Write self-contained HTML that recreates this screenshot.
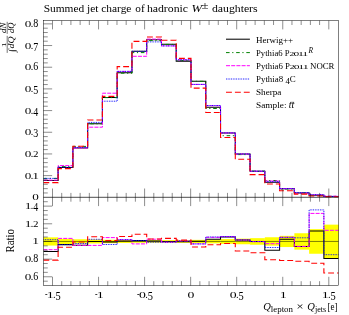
<!DOCTYPE html>
<html><head><meta charset="utf-8"><title>Summed jet charge</title>
<style>html,body{margin:0;padding:0;background:#fff;width:349px;height:315px;overflow:hidden}svg{display:block;will-change:transform}text{fill:#000;white-space:pre}</style>
</head><body>
<svg width="349" height="315" viewBox="0 0 349 315">
<rect x="43.35" y="237.35" width="14.81" height="8.2" fill="#ffff00"/>
<rect x="58.11" y="238.85" width="14.81" height="5.2" fill="#ffff00"/>
<rect x="72.88" y="239.25" width="14.81" height="4.4" fill="#ffff00"/>
<rect x="87.64" y="239.45" width="14.81" height="4" fill="#ffff00"/>
<rect x="102.41" y="239.75" width="14.81" height="3.4" fill="#ffff00"/>
<rect x="117.17" y="239.95" width="14.81" height="3" fill="#ffff00"/>
<rect x="131.94" y="240.15" width="14.81" height="2.6" fill="#ffff00"/>
<rect x="146.7" y="240.15" width="14.81" height="2.6" fill="#ffff00"/>
<rect x="161.47" y="240.15" width="14.81" height="2.6" fill="#ffff00"/>
<rect x="176.23" y="240.05" width="14.81" height="2.8" fill="#ffff00"/>
<rect x="191" y="239.85" width="14.81" height="3.2" fill="#ffff00"/>
<rect x="205.76" y="239.55" width="14.81" height="3.8" fill="#ffff00"/>
<rect x="220.53" y="239.05" width="14.81" height="4.8" fill="#ffff00"/>
<rect x="235.29" y="238.65" width="14.81" height="5.6" fill="#ffff00"/>
<rect x="250.06" y="238.15" width="14.81" height="6.6" fill="#ffff00"/>
<rect x="264.82" y="237.25" width="14.81" height="8.4" fill="#ffff00"/>
<rect x="279.59" y="235.85" width="14.81" height="11.2" fill="#ffff00"/>
<rect x="294.35" y="233.25" width="14.81" height="16.4" fill="#ffff00"/>
<rect x="309.12" y="229.15" width="14.81" height="24.6" fill="#ffff00"/>
<rect x="323.88" y="224.65" width="14.81" height="33.6" fill="#ffff00"/>
<clipPath id="cm"><rect x="43.35" y="20.6" width="295.3" height="177.3"/></clipPath>
<clipPath id="cr"><rect x="43.35" y="197.3" width="295.3" height="88.3"/></clipPath>
<g clip-path="url(#cr)">
<path d="M43.35 241.45 H338.65" stroke="#000" stroke-width="0.5" fill="none"/>
<path d="M43.35 251.4 H58.11 V244.6 H72.88 V245.3 H87.64 V241.4 H102.41 V242 H117.17 V241 H131.94 V240.6 H146.7 V241 H161.47 V241.5 H176.23 V241.8 H191 V241.3 H205.76 V239.3 H220.53 V237 H235.29 V240 H250.06 V241.5 H264.82 V250.3 H279.59 V239.2 H294.35 V246.4 H309.12 V230.9 H323.88 V258.4 H338.65" fill="none" stroke="#000000" stroke-width="1.05"/>
<path d="M43.35 249.7 H58.11 V238.4 H72.88 V245.3 H87.64 V245.4 H102.41 V237.6 H117.17 V239.7 H131.94 V243.9 H146.7 V239.2 H161.47 V242.2 H176.23 V240.9 H191 V243.9 H205.76 V237.3 H220.53 V236.6 H235.29 V240 H250.06 V241.6 H264.82 V243.7 H279.59 V237.3 H294.35 V246.4 H309.12 V213.4 H323.88 V230.3 H338.65" fill="none" stroke="#ff00ff" stroke-width="1.0" stroke-dasharray="4 1.2"/>
<path d="M43.35 239.7 H58.11 V244.6 H72.88 V243.5 H87.64 V239.3 H102.41 V244.5 H117.17 V239.7 H131.94 V240.5 H146.7 V242.2 H161.47 V242.2 H176.23 V240.9 H191 V243.9 H205.76 V237 H220.53 V236.6 H235.29 V240 H250.06 V241.6 H264.82 V247.5 H279.59 V237.3 H294.35 V237.8 H309.12 V209.9 H323.88 V254.7 H338.65" fill="none" stroke="#0000ff" stroke-width="1.0" stroke-dasharray="0.85 0.85"/>
<path d="M43.35 260.1 H58.11 V247.2 H72.88 V242 H87.64 V236.8 H102.41 V240.5 H117.17 V236.5 H131.94 V234.3 H146.7 V239 H161.47 V238.4 H176.23 V240.1 H191 V247 H205.76 V244.7 H220.53 V243.5 H235.29 V251 H250.06 V252.7 H264.82 V259.8 H279.59 V260.5 H294.35 V261.3 H309.12 V263.2 H323.88 V273 H338.65" fill="none" stroke="#ff0000" stroke-width="1.1" stroke-dasharray="5.9 3"/>
</g>
<g clip-path="url(#cm)">
<path d="M43.35 180.4 H58.11 V167.4 H72.88 V148 H87.64 V123.7 H102.41 V97.5 H117.17 V72.8 H131.94 V51.2 H146.7 V39.8 H161.47 V44.3 H176.23 V61.1 H191 V81.2 H205.76 V107.2 H220.53 V133 H235.29 V154 H250.06 V171.2 H264.82 V182.2 H279.59 V188.8 H294.35 V193.05 H309.12 V195.2 H323.88 V196.4 H338.65" fill="none" stroke="#000000" stroke-width="1.05"/>
<path d="M43.35 178.4 H58.11 V166.6 H72.88 V146.4 H87.64 V123.8 H102.41 V97.6 H117.17 V73.2 H131.94 V52.6 H146.7 V40.6 H161.47 V44.4 H176.23 V60.5 H191 V81.3 H205.76 V108.5 H220.53 V135.7 H235.29 V154.6 H250.06 V171.1 H264.82 V180.5 H279.59 V189 H294.35 V192.8 H309.12 V195.4 H323.88 V196.3 H338.65" fill="none" stroke="#008000" stroke-width="1.0" stroke-dasharray="3.6 2.6 1.2 2.75"/>
<path d="M43.35 180.1 H58.11 V165.6 H72.88 V148 H87.64 V127.2 H102.41 V93.2 H117.17 V71.4 H131.94 V56.3 H146.7 V39.1 H161.47 V45.9 H176.23 V59.8 H191 V84.4 H205.76 V105.7 H220.53 V132.9 H235.29 V154 H250.06 V171.2 H264.82 V181 H279.59 V188.6 H294.35 V193.05 H309.12 V194.8 H323.88 V196.2 H338.65" fill="none" stroke="#ff00ff" stroke-width="1.0" stroke-dasharray="4 1.2"/>
<path d="M43.35 178.4 H58.11 V167.3 H72.88 V147.4 H87.64 V122.4 H102.41 V101.2 H117.17 V71.4 H131.94 V51.3 H146.7 V41.9 H161.47 V45.9 H176.23 V59.8 H191 V84.4 H205.76 V105.5 H220.53 V132.9 H235.29 V154 H250.06 V171.2 H264.82 V181.7 H279.59 V188.6 H294.35 V192.6 H309.12 V194.7 H323.88 V196.4 H338.65" fill="none" stroke="#0000ff" stroke-width="1.0" stroke-dasharray="0.85 0.85"/>
<path d="M43.35 182.6 H58.11 V168.6 H72.88 V146.2 H87.64 V120 H102.41 V96.4 H117.17 V66.6 H131.94 V41.4 H146.7 V37 H161.47 V40.2 H176.23 V58.4 H191 V88.1 H205.76 V112.5 H220.53 V137.5 H235.29 V159.3 H250.06 V174.6 H264.82 V184 H279.59 V190.7 H294.35 V194.1 H309.12 V196 H323.88 V196.8 H338.65" fill="none" stroke="#ff0000" stroke-width="1.1" stroke-dasharray="5.9 3"/>
</g>
<g stroke="#000" stroke-width="0.5" fill="none">
<rect x="43.35" y="20.6" width="295.3" height="265"/>
<path d="M43.35 197.3H338.65" stroke-width="0.7"/>
</g>
<path d="M52.5 20.6v8.8 M52.5 188.5v17.6 M52.5 285.6v-8.8 M61.71 20.6v4.4 M61.71 192.9v8.8 M61.71 285.6v-4.4 M70.92 20.6v4.4 M70.92 192.9v8.8 M70.92 285.6v-4.4 M80.13 20.6v4.4 M80.13 192.9v8.8 M80.13 285.6v-4.4 M89.34 20.6v4.4 M89.34 192.9v8.8 M89.34 285.6v-4.4 M98.55 20.6v8.8 M98.55 188.5v17.6 M98.55 285.6v-8.8 M107.76 20.6v4.4 M107.76 192.9v8.8 M107.76 285.6v-4.4 M116.97 20.6v4.4 M116.97 192.9v8.8 M116.97 285.6v-4.4 M126.18 20.6v4.4 M126.18 192.9v8.8 M126.18 285.6v-4.4 M135.39 20.6v4.4 M135.39 192.9v8.8 M135.39 285.6v-4.4 M144.6 20.6v8.8 M144.6 188.5v17.6 M144.6 285.6v-8.8 M153.81 20.6v4.4 M153.81 192.9v8.8 M153.81 285.6v-4.4 M163.02 20.6v4.4 M163.02 192.9v8.8 M163.02 285.6v-4.4 M172.23 20.6v4.4 M172.23 192.9v8.8 M172.23 285.6v-4.4 M181.44 20.6v4.4 M181.44 192.9v8.8 M181.44 285.6v-4.4 M190.65 20.6v8.8 M190.65 188.5v17.6 M190.65 285.6v-8.8 M199.86 20.6v4.4 M199.86 192.9v8.8 M199.86 285.6v-4.4 M209.07 20.6v4.4 M209.07 192.9v8.8 M209.07 285.6v-4.4 M218.28 20.6v4.4 M218.28 192.9v8.8 M218.28 285.6v-4.4 M227.49 20.6v4.4 M227.49 192.9v8.8 M227.49 285.6v-4.4 M236.7 20.6v8.8 M236.7 188.5v17.6 M236.7 285.6v-8.8 M245.91 20.6v4.4 M245.91 192.9v8.8 M245.91 285.6v-4.4 M255.12 20.6v4.4 M255.12 192.9v8.8 M255.12 285.6v-4.4 M264.33 20.6v4.4 M264.33 192.9v8.8 M264.33 285.6v-4.4 M273.54 20.6v4.4 M273.54 192.9v8.8 M273.54 285.6v-4.4 M282.75 20.6v8.8 M282.75 188.5v17.6 M282.75 285.6v-8.8 M291.96 20.6v4.4 M291.96 192.9v8.8 M291.96 285.6v-4.4 M301.17 20.6v4.4 M301.17 192.9v8.8 M301.17 285.6v-4.4 M310.38 20.6v4.4 M310.38 192.9v8.8 M310.38 285.6v-4.4 M319.59 20.6v4.4 M319.59 192.9v8.8 M319.59 285.6v-4.4 M328.8 20.6v8.8 M328.8 188.5v17.6 M328.8 285.6v-8.8 M43.35 192.96h4.4 M43.35 188.63h4.4 M43.35 184.29h4.4 M43.35 179.96h4.4 M43.35 175.62h8.8 M43.35 171.28h4.4 M43.35 166.95h4.4 M43.35 162.61h4.4 M43.35 158.28h4.4 M43.35 153.94h8.8 M43.35 149.6h4.4 M43.35 145.27h4.4 M43.35 140.93h4.4 M43.35 136.6h4.4 M43.35 132.26h8.8 M43.35 127.92h4.4 M43.35 123.59h4.4 M43.35 119.25h4.4 M43.35 114.92h4.4 M43.35 110.58h8.8 M43.35 106.24h4.4 M43.35 101.91h4.4 M43.35 97.57h4.4 M43.35 93.24h4.4 M43.35 88.9h8.8 M43.35 84.56h4.4 M43.35 80.23h4.4 M43.35 75.89h4.4 M43.35 71.56h4.4 M43.35 67.22h8.8 M43.35 62.88h4.4 M43.35 58.55h4.4 M43.35 54.21h4.4 M43.35 49.88h4.4 M43.35 45.54h8.8 M43.35 41.2h4.4 M43.35 36.87h4.4 M43.35 32.53h4.4 M43.35 28.2h4.4 M43.35 23.86h8.8 M43.35 281.19h4.4 M43.35 276.77h8.8 M43.35 272.35h4.4 M43.35 267.94h4.4 M43.35 263.52h4.4 M43.35 259.11h8.8 M43.35 254.69h4.4 M43.35 250.28h4.4 M43.35 245.86h4.4 M43.35 241.45h8.8 M43.35 237.03h4.4 M43.35 232.62h4.4 M43.35 228.2h4.4 M43.35 223.79h8.8 M43.35 219.38h4.4 M43.35 214.96h4.4 M43.35 210.54h4.4 M43.35 206.13h8.8 M43.35 201.71h4.4" stroke="#000" stroke-width="0.45" fill="none"/>
<g transform="translate(38.2 200.3) translate(-5.3 0) scale(1.0000 1)" font-family="Liberation Serif, serif"><text transform="translate(-0.65 0) scale(1.32 0.76)" font-size="10">0</text></g>
<g transform="translate(38.2 178.62) translate(-12.8 0) scale(1.0000 1)" font-family="Liberation Serif, serif"><text transform="translate(-0.65 0) scale(1.32 0.76)" font-size="10">0</text><text x="5.3" y="0" font-size="10">.</text><text transform="translate(6.93 0) scale(1.35 0.76)" font-size="10">1</text></g>
<g transform="translate(38.2 156.94) translate(-12.8 0) scale(1.0000 1)" font-family="Liberation Serif, serif"><text transform="translate(-0.65 0) scale(1.32 0.76)" font-size="10">0</text><text x="5.3" y="0" font-size="10">.</text><text transform="translate(7.55 0) scale(1.1 0.76)" font-size="10">2</text></g>
<g transform="translate(38.2 135.26) translate(-12.8 0) scale(1.0000 1)" font-family="Liberation Serif, serif"><text transform="translate(-0.65 0) scale(1.32 0.76)" font-size="10">0</text><text x="5.3" y="0" font-size="10">.</text><text transform="translate(7.8 2) scale(1.0 1.2)" font-size="10">3</text></g>
<g transform="translate(38.2 113.58) translate(-12.8 0) scale(1.0000 1)" font-family="Liberation Serif, serif"><text transform="translate(-0.65 0) scale(1.32 0.76)" font-size="10">0</text><text x="5.3" y="0" font-size="10">.</text><text transform="translate(7.8 2) scale(1.0 1.2)" font-size="10">4</text></g>
<g transform="translate(38.2 91.9) translate(-12.8 0) scale(1.0000 1)" font-family="Liberation Serif, serif"><text transform="translate(-0.65 0) scale(1.32 0.76)" font-size="10">0</text><text x="5.3" y="0" font-size="10">.</text><text transform="translate(7.8 2) scale(1.0 1.2)" font-size="10">5</text></g>
<g transform="translate(38.2 70.22) translate(-12.8 0) scale(1.0000 1)" font-family="Liberation Serif, serif"><text transform="translate(-0.65 0) scale(1.32 0.76)" font-size="10">0</text><text x="5.3" y="0" font-size="10">.</text><text transform="translate(7.8 0) scale(1.0 1.25)" font-size="10">6</text></g>
<g transform="translate(38.2 48.54) translate(-12.8 0) scale(1.0000 1)" font-family="Liberation Serif, serif"><text transform="translate(-0.65 0) scale(1.32 0.76)" font-size="10">0</text><text x="5.3" y="0" font-size="10">.</text><text transform="translate(7.8 2) scale(1.0 1.2)" font-size="10">7</text></g>
<g transform="translate(38.2 26.86) translate(-12.8 0) scale(1.0000 1)" font-family="Liberation Serif, serif"><text transform="translate(-0.65 0) scale(1.32 0.76)" font-size="10">0</text><text x="5.3" y="0" font-size="10">.</text><text transform="translate(7.8 0) scale(1.0 1.25)" font-size="10">8</text></g>
<g transform="translate(38.2 209.13) translate(-12.5 0) scale(1.0000 1)" font-family="Liberation Serif, serif"><text transform="translate(-0.88 0) scale(1.35 0.76)" font-size="10">1</text><text x="5" y="0" font-size="10">.</text><text transform="translate(7.5 2) scale(1.0 1.2)" font-size="10">4</text></g>
<g transform="translate(38.2 226.79) translate(-12.5 0) scale(1.0000 1)" font-family="Liberation Serif, serif"><text transform="translate(-0.88 0) scale(1.35 0.76)" font-size="10">1</text><text x="5" y="0" font-size="10">.</text><text transform="translate(7.25 0) scale(1.1 0.76)" font-size="10">2</text></g>
<g transform="translate(38.2 244.45) translate(-5 0) scale(1.0000 1)" font-family="Liberation Serif, serif"><text transform="translate(-0.88 0) scale(1.35 0.76)" font-size="10">1</text></g>
<g transform="translate(38.2 262.11) translate(-12.8 0) scale(1.0000 1)" font-family="Liberation Serif, serif"><text transform="translate(-0.65 0) scale(1.32 0.76)" font-size="10">0</text><text x="5.3" y="0" font-size="10">.</text><text transform="translate(7.8 0) scale(1.0 1.25)" font-size="10">8</text></g>
<g transform="translate(38.2 279.77) translate(-12.8 0) scale(1.0000 1)" font-family="Liberation Serif, serif"><text transform="translate(-0.65 0) scale(1.32 0.76)" font-size="10">0</text><text x="5.3" y="0" font-size="10">.</text><text transform="translate(7.8 0) scale(1.0 1.25)" font-size="10">6</text></g>
<g transform="translate(52.9 297.8) translate(-7.89 0) scale(1.0000 1)" font-family="Liberation Serif, serif"><text transform="translate(0.09 -0.52) scale(0.75 1.0)" font-size="10.4">-</text><text transform="translate(1.86 0) scale(1.35 0.76)" font-size="10.4">1</text><text x="7.97" y="0" font-size="10.4">.</text><text transform="translate(10.57 2.08) scale(1.0 1.2)" font-size="10.4">5</text></g>
<g transform="translate(98.95 297.8) translate(-3.99 0) scale(1.0000 1)" font-family="Liberation Serif, serif"><text transform="translate(0.09 -0.52) scale(0.75 1.0)" font-size="10.4">-</text><text transform="translate(1.86 0) scale(1.35 0.76)" font-size="10.4">1</text></g>
<g transform="translate(145 297.8) translate(-8.04 0) scale(1.0000 1)" font-family="Liberation Serif, serif"><text transform="translate(0.09 -0.52) scale(0.75 1.0)" font-size="10.4">-</text><text transform="translate(2.09 0) scale(1.32 0.76)" font-size="10.4">0</text><text x="8.28" y="0" font-size="10.4">.</text><text transform="translate(10.88 2.08) scale(1.0 1.2)" font-size="10.4">5</text></g>
<g transform="translate(191.05 297.8) translate(-2.76 0) scale(1.0000 1)" font-family="Liberation Serif, serif"><text transform="translate(-0.68 0) scale(1.32 0.76)" font-size="10.4">0</text></g>
<g transform="translate(237.1 297.8) translate(-6.66 0) scale(1.0000 1)" font-family="Liberation Serif, serif"><text transform="translate(-0.68 0) scale(1.32 0.76)" font-size="10.4">0</text><text x="5.51" y="0" font-size="10.4">.</text><text transform="translate(8.11 2.08) scale(1.0 1.2)" font-size="10.4">5</text></g>
<g transform="translate(283.15 297.8) translate(-2.6 0) scale(1.0000 1)" font-family="Liberation Serif, serif"><text transform="translate(-0.91 0) scale(1.35 0.76)" font-size="10.4">1</text></g>
<g transform="translate(329.2 297.8) translate(-6.5 0) scale(1.0000 1)" font-family="Liberation Serif, serif"><text transform="translate(-0.91 0) scale(1.35 0.76)" font-size="10.4">1</text><text x="5.2" y="0" font-size="10.4">.</text><text transform="translate(7.8 2.08) scale(1.0 1.2)" font-size="10.4">5</text></g>
<g transform="translate(43.7 12) translate(0 0) scale(1.0363 1)" font-family="Liberation Serif, serif"><text x="0" y="0" font-size="11">Summed jet charge</text></g>
<g transform="translate(135.3 12) translate(0 0) scale(1.0258 1)" font-family="Liberation Serif, serif"><text x="0" y="0" font-size="11">of</text></g>
<g transform="translate(146.9 12) translate(0 0) scale(1.0706 1)" font-family="Liberation Serif, serif"><text x="0" y="0" font-size="11">hadronic</text></g>
<g transform="translate(191.4 12) translate(0 0) scale(1.1568 1)" font-family="Liberation Serif, serif"><text x="0" y="0" font-size="11" font-style="italic">W</text></g>
<g transform="translate(201.4 8.8) translate(0 0) scale(1.3569 1)" font-family="Liberation Serif, serif"><text x="0" y="0" font-size="9.4">±</text></g>
<g transform="translate(211.9 12) translate(0 0) scale(1.0710 1)" font-family="Liberation Serif, serif"><text x="0" y="0" font-size="11">daughters</text></g>
<path d="M226 39.2H249.9" stroke="#000000" stroke-width="1.05" fill="none"/>
<path d="M226 52.6H249.9" stroke="#008000" stroke-width="1.0" stroke-dasharray="3.6 2.6 1.2 2.75" fill="none"/>
<path d="M226 65.7H249.9" stroke="#ff00ff" stroke-width="1.0" stroke-dasharray="4 1.2" fill="none"/>
<path d="M226 79H249.9" stroke="#0000ff" stroke-width="1.0" stroke-dasharray="0.85 0.85" fill="none"/>
<path d="M226 92.3H249.9" stroke="#ff0000" stroke-width="1.1" stroke-dasharray="5.9 3" fill="none"/>
<g transform="translate(256 42.8) translate(0 0) scale(1.0243 1)" font-family="Liberation Serif, serif"><text x="0" y="0" font-size="8.8">Herwig++</text></g>
<g transform="translate(256 55.9) translate(0 0) scale(0.9918 1)" font-family="Liberation Serif, serif"><text x="0" y="0" font-size="8.8">Pythia</text><text transform="translate(22.49 0) scale(1.0 1.05)" font-size="8.8">6</text><text x="26.89" y="0" font-size="8.8"> P</text><text transform="translate(33.76 0) scale(1.1 0.68)" font-size="8.8">2</text><text transform="translate(37.81 0) scale(1.32 0.68)" font-size="8.8">0</text><text transform="translate(42.28 0) scale(1.35 0.68)" font-size="8.8">1</text><text transform="translate(46.68 0) scale(1.35 0.68)" font-size="8.8">1</text><text x="53.05" y="-2.7" font-size="7.57" font-style="italic">R</text></g>
<g transform="translate(256 69) translate(0 0) scale(1.0000 1)" font-family="Liberation Serif, serif"><text x="0" y="0" font-size="8.8">Pythia</text><text transform="translate(22.49 0) scale(1.0 1.05)" font-size="8.8">6</text><text x="26.89" y="0" font-size="8.8"> P</text><text transform="translate(33.76 0) scale(1.1 0.68)" font-size="8.8">2</text><text transform="translate(37.81 0) scale(1.32 0.68)" font-size="8.8">0</text><text transform="translate(42.28 0) scale(1.35 0.68)" font-size="8.8">1</text><text transform="translate(46.68 0) scale(1.35 0.68)" font-size="8.8">1</text><text x="51.85" y="0" font-size="8.8"> NOCR</text></g>
<g transform="translate(256 82.2) translate(0 0) scale(1.0112 1)" font-family="Liberation Serif, serif"><text x="0" y="0" font-size="8.8">Pythia</text><text transform="translate(22.49 0) scale(1.0 1.05)" font-size="8.8">8</text><text x="26.89" y="0" font-size="8.8"> </text><text transform="translate(29.09 1.76) scale(1.0 1.0)" font-size="8.8">4</text><text x="33.49" y="0" font-size="8.8">C</text></g>
<g transform="translate(256 95.3) translate(0 0) scale(1.0394 1)" font-family="Liberation Serif, serif"><text x="0" y="0" font-size="8.8">Sherpa</text></g>
<g transform="translate(256 108.4) translate(0 0) scale(1.0572 1)" font-family="Liberation Serif, serif"><text x="0" y="0" font-size="8.8">Sample: </text><text x="31.04" y="0" font-size="9.5" font-style="italic">tt</text></g>
<path d="M290.4 102.3H294.2" stroke="#000" stroke-width="0.5" fill="none"/>
<g transform="translate(263.2 310.2) translate(0 0) scale(0.9567 1)" font-family="Liberation Serif, serif"><text x="0" y="0" font-size="11" font-style="italic">Q</text></g>
<g transform="translate(270.8 311.9) translate(0 0) scale(1.0831 1)" font-family="Liberation Serif, serif"><text x="0" y="0" font-size="8.2">lepton</text></g>
<g transform="translate(296.6 310.3) translate(0 0) scale(1.1284 1)" font-family="Liberation Serif, serif"><text x="0" y="0" font-size="11">×</text></g>
<g transform="translate(307.2 310.2) translate(0 0) scale(0.9567 1)" font-family="Liberation Serif, serif"><text x="0" y="0" font-size="11" font-style="italic">Q</text></g>
<g transform="translate(314.9 311.9) translate(0 0) scale(0.9924 1)" font-family="Liberation Serif, serif"><text x="0" y="0" font-size="8.2">jets</text></g>
<g transform="translate(327.5 310.2) translate(0 0) scale(0.8191 1)" font-family="Liberation Serif, serif"><text x="0" y="0" font-size="11">[e]</text></g>
<g transform="translate(13.7 240.8) rotate(-90) translate(-11.7 0) scale(0.9153 1)" font-family="Liberation Serif, serif"><text x="0" y="0" font-size="11.8">Ratio</text></g>
<path d="M7.2 21.8V33.9 M7.2 35.8V52.9" stroke="#000" stroke-width="0.55" fill="none"/>
<g transform="translate(6 27.7) rotate(-90) translate(-5.2 0) scale(1.2377 1)" font-family="Liberation Serif, serif"><text x="0" y="0" font-size="7.2" font-style="italic">dN</text></g>
<g transform="translate(13.5 27.7) rotate(-90) translate(-5.2 0) scale(1.1819 1)" font-family="Liberation Serif, serif"><text x="0" y="0" font-size="7.2" font-style="italic">dQ</text></g>
<g transform="translate(5.7 44.7) rotate(-90) translate(-1.8 0) scale(1.0000 1)" font-family="Liberation Serif, serif"><text transform="translate(-0.63 0) scale(1.35 0.76)" font-size="7.2">1</text></g>
<g transform="translate(13.6 44.5) rotate(-90) translate(-8 0) scale(1.3600 1)" font-family="Liberation Serif, serif"><text x="0" y="1.2" font-size="9">∫</text><text x="2.97" y="0" font-size="7.2" font-style="italic">dQ</text></g>
</svg>
</body></html>
